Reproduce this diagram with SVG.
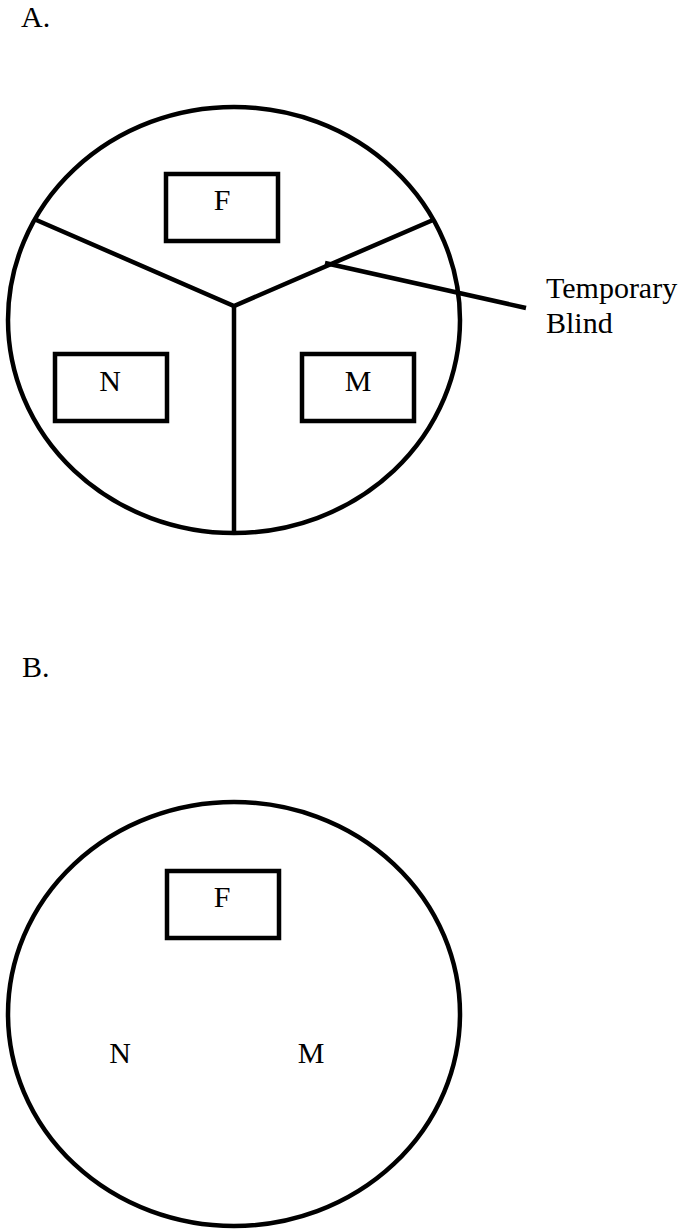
<svg xmlns="http://www.w3.org/2000/svg" width="679" height="1230" viewBox="0 0 679 1230">
<style>
.s{fill:none;stroke:#000;stroke-width:4.5}
.t{font-family:"Liberation Serif","Times New Roman",serif;font-size:30px;fill:#000}
.c{text-anchor:middle}
</style>
<rect width="679" height="1230" fill="#fff"/>
<text class="t" x="21" y="27">A.</text>
<g id="circleA"><ellipse class="s" cx="234" cy="320" rx="226" ry="213"/></g>
<g id="connectors">
<polyline class="s" points="34,219 234,306 433,220" stroke-linejoin="miter"/>
<line class="s" x1="234" y1="306" x2="234" y2="534"/>
<line class="s" x1="325" y1="263" x2="526" y2="308"/>
</g>
<g id="F_A"><rect class="s" x="166" y="174" width="112" height="67"/><text class="t c" x="222" y="210">F</text></g>
<g id="N_A"><rect class="s" x="55" y="354" width="112" height="67"/><text class="t c" x="110" y="391">N</text></g>
<g id="M_A"><rect class="s" x="302" y="354" width="112" height="67"/><text class="t c" x="358" y="391">M</text></g>
<g id="blind"><text class="t" x="546" y="298">Temporary</text><text class="t" x="546" y="333">Blind</text></g>
<text class="t" x="22" y="677">B.</text>
<g id="circleB"><ellipse class="s" cx="234" cy="1014" rx="226" ry="212"/></g>
<g id="F_B"><rect class="s" x="167" y="871" width="112" height="67"/><text class="t c" x="222" y="907">F</text></g>
<g id="N_B"><text class="t c" x="120" y="1063">N</text></g>
<g id="M_B"><text class="t c" x="311" y="1063">M</text></g>
</svg>
